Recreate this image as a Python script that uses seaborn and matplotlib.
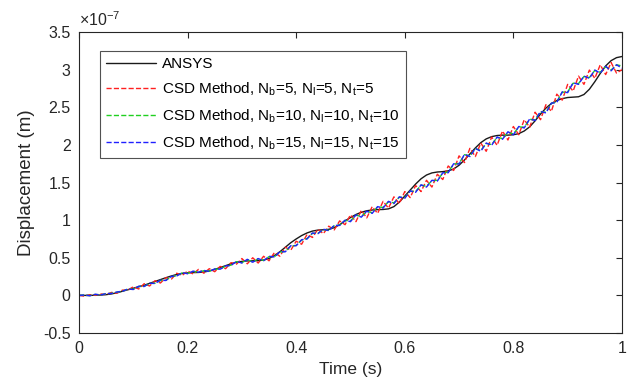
import numpy as np
import pandas as pd
import matplotlib
matplotlib.use("Agg")
import matplotlib.pyplot as plt
import seaborn as sns

# ---- data (displacement in units of 1e-7 m) ----
time_s = np.round(np.linspace(0.0, 1.0, 101), 2)

ansys = [0.000, 0.000, 0.000, 0.002, 0.005, 0.010, 0.020, 0.035, 0.055, 0.075,
         0.095, 0.115, 0.135, 0.160, 0.185, 0.210, 0.235, 0.258, 0.278, 0.292,
         0.300, 0.303, 0.305, 0.310, 0.325, 0.345, 0.370, 0.395, 0.420, 0.440,
         0.452, 0.458, 0.460, 0.462, 0.470, 0.490, 0.530, 0.580, 0.640, 0.700,
         0.750, 0.795, 0.830, 0.855, 0.868, 0.872, 0.878, 0.900, 0.940, 0.990,
         1.035, 1.075, 1.105, 1.125, 1.135, 1.140, 1.142, 1.150, 1.180, 1.240,
         1.320, 1.400, 1.480, 1.550, 1.600, 1.628, 1.640, 1.645, 1.655, 1.680,
         1.730, 1.800, 1.880, 1.960, 2.030, 2.080, 2.110, 2.125, 2.130, 2.130,
         2.135, 2.150, 2.185, 2.240, 2.320, 2.410, 2.490, 2.550, 2.590, 2.615,
         2.630, 2.635, 2.640, 2.670, 2.740, 2.840, 2.950, 3.050, 3.120, 3.160,
         3.175]

csd_5 = [0.00, -0.01, 0.01, 0.00, 0.02, 0.01, 0.04, 0.03, 0.07, 0.07,
         0.115, 0.085, 0.155, 0.125, 0.195, 0.165, 0.235, 0.215, 0.295, 0.265,
         0.325, 0.285, 0.345, 0.295, 0.355, 0.315, 0.385, 0.355, 0.435, 0.415,
         0.49, 0.42, 0.50, 0.43, 0.52, 0.46, 0.57, 0.52, 0.64, 0.60,
         0.72, 0.68, 0.81, 0.77, 0.88, 0.82, 0.92, 0.87, 0.99, 0.94,
         1.07, 0.98, 1.13, 1.03, 1.18, 1.09, 1.25, 1.16, 1.31, 1.22,
         1.38, 1.30, 1.46, 1.38, 1.53, 1.44, 1.61, 1.54, 1.72, 1.66,
         1.855, 1.765, 1.955, 1.845, 2.025, 1.915, 2.105, 1.995, 2.185, 2.065,
         2.245, 2.135, 2.335, 2.235, 2.435, 2.335, 2.535, 2.445, 2.675, 2.595,
         2.805, 2.715, 2.915, 2.805, 2.995, 2.885, 3.065, 2.935, 3.095, 2.955,
         3.00]

csd_10 = [0.000, 0.004, -0.003, 0.013, 0.007, 0.023, 0.027, 0.043, 0.057, 0.083,
          0.082, 0.118, 0.122, 0.158, 0.162, 0.198, 0.202, 0.248, 0.262, 0.298,
          0.292, 0.318, 0.312, 0.328, 0.322, 0.348, 0.352, 0.388, 0.402, 0.448,
          0.435, 0.475, 0.445, 0.485, 0.465, 0.515, 0.515, 0.575, 0.585, 0.655,
          0.665, 0.735, 0.755, 0.825, 0.825, 0.875, 0.865, 0.925, 0.935, 0.995,
          0.990, 1.065, 1.050, 1.115, 1.100, 1.175, 1.170, 1.245, 1.230, 1.305,
          1.300, 1.385, 1.380, 1.465, 1.450, 1.525, 1.530, 1.625, 1.640, 1.745,
          1.755, 1.870, 1.855, 1.950, 1.925, 2.020, 2.005, 2.100, 2.085, 2.170,
          2.145, 2.240, 2.235, 2.340, 2.335, 2.440, 2.435, 2.550, 2.575, 2.700,
          2.705, 2.820, 2.815, 2.910, 2.895, 2.990, 2.965, 3.040, 2.995, 3.065,
          3.050]

csd_15 = [0.000, 0.005, -0.005, 0.015, 0.005, 0.025, 0.025, 0.045, 0.055, 0.085,
          0.078, 0.122, 0.118, 0.162, 0.158, 0.202, 0.198, 0.252, 0.258, 0.302,
          0.288, 0.322, 0.308, 0.332, 0.318, 0.352, 0.348, 0.392, 0.398, 0.452,
          0.43, 0.48, 0.44, 0.49, 0.46, 0.52, 0.51, 0.58, 0.58, 0.66,
          0.66, 0.74, 0.75, 0.83, 0.82, 0.88, 0.86, 0.93, 0.93, 1.00,
          0.98, 1.07, 1.04, 1.12, 1.09, 1.18, 1.16, 1.25, 1.22, 1.31,
          1.29, 1.39, 1.37, 1.47, 1.44, 1.53, 1.52, 1.63, 1.63, 1.75,
          1.745, 1.875, 1.845, 1.955, 1.915, 2.025, 1.995, 2.105, 2.075, 2.175,
          2.135, 2.245, 2.225, 2.345, 2.325, 2.445, 2.425, 2.555, 2.565, 2.705,
          2.695, 2.825, 2.805, 2.915, 2.885, 2.995, 2.955, 3.045, 2.985, 3.065,
          3.02]

labels = ["ANSYS",
          "CSD Method, N$_b$=5, N$_l$=5, N$_t$=5",
          "CSD Method, N$_b$=10, N$_l$=10, N$_t$=10",
          "CSD Method, N$_b$=15, N$_l$=15, N$_t$=15"]
series = [ansys, csd_5, csd_10, csd_15]
colors = ["#1a1a1a", "#ff2020", "#20d020", "#2020ff"]
styles = ["-", "--", "--", "--"]

x_ticks = [0, 0.2, 0.4, 0.6, 0.8, 1]
y_ticks = [-0.5, 0, 0.5, 1, 1.5, 2, 2.5, 3, 3.5]

# ---- style ----
sns.set_theme(style="white")
plt.rcParams["font.family"] = ["Liberation Sans", "DejaVu Sans"]
plt.rcParams["mathtext.default"] = "regular"
axc = "#262626"

fig = plt.figure(figsize=(6.34, 3.91), dpi=100)
ax = fig.add_axes([0.1246, 0.1483, 0.8564, 0.7697])

for lab, vals, col, ls in zip(labels, series, colors, styles):
    df = pd.DataFrame({"t": time_s, "y": vals})
    sns.lineplot(data=df, x="t", y="y", ax=ax, color=col, linestyle=ls,
                 linewidth=1.0, label=lab, errorbar=None)

ax.set_xlim(0, 1)
ax.set_ylim(-0.5, 3.5)
ax.set_xticks(x_ticks)
ax.set_yticks(y_ticks)
ax.set_xticklabels([f"{v:g}" for v in x_ticks])
ax.set_yticklabels([f"{v:g}" for v in y_ticks])
ax.tick_params(direction="in", length=4, width=0.8, colors=axc,
               labelsize=11.5, top=True, right=True, labelcolor=axc, pad=6)
for s in ax.spines.values():
    s.set_color(axc)
    s.set_linewidth(0.8)

ax.set_xlabel("Time (s)", fontsize=12.5, color=axc, labelpad=4)
ax.set_ylabel("Displacement (m)", fontsize=13.5, color=axc, labelpad=6)
ax.text(0.0, 1.01, r"$\times$10$^{-7}$", transform=ax.transAxes,
        fontsize=11.5, color=axc, ha="left", va="bottom")

leg = ax.legend(loc="upper left", bbox_to_anchor=(0.038, 0.937),
                borderaxespad=0, fontsize=11, handlelength=3.3,
                labelspacing=0.62, frameon=True, fancybox=False,
                borderpad=0.4, handletextpad=0.4)
leg.get_frame().set_edgecolor(axc)
leg.get_frame().set_linewidth(0.8)
for t in leg.get_texts():
    t.set_color("#000000")

fig.savefig("out.png", dpi=100)
